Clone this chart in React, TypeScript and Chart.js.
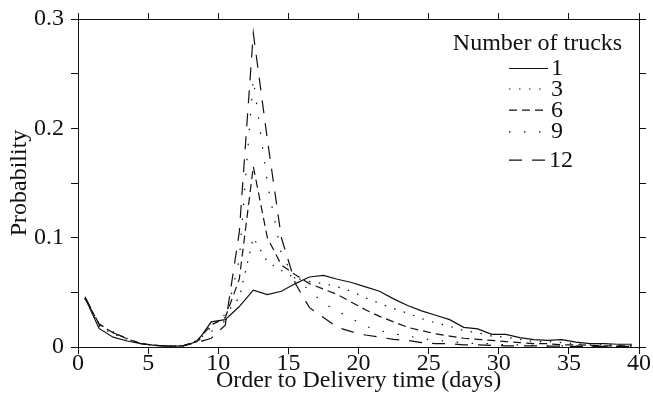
import React, { useEffect, useRef } from "react";
import { Chart, registerables } from "chart.js";

Chart.register(...registerables);

const FONT = "'Liberation Serif', 'Times New Roman', serif";

const DAYS = [
  0.5, 1.5, 2.5, 3.5, 4.5, 5.5, 6.5, 7.5, 8.5, 9.5,
  10.5, 11.5, 12.5, 13.5, 14.5, 15.5, 16.5, 17.5, 18.5, 19.5,
  20.5, 21.5, 22.5, 23.5, 24.5, 25.5, 26.5, 27.5, 28.5, 29.5,
  30.5, 31.5, 32.5, 33.5, 34.5, 35.5, 36.5, 37.5, 38.5, 39.5,
];

const TRUCKS_1 = [
  0.045, 0.017, 0.009, 0.0055, 0.003, 0.0015, 0.0008, 0.001, 0.005, 0.023,
  0.025, 0.037, 0.052, 0.048, 0.051, 0.058, 0.064, 0.0655, 0.062, 0.059,
  0.055, 0.051, 0.044, 0.038, 0.033, 0.029, 0.025, 0.018, 0.0165, 0.0115,
  0.0115, 0.0085, 0.0068, 0.006, 0.0068, 0.0045, 0.003, 0.003, 0.0025, 0.0025,
];

const TRUCKS_3 = [
  0.044, 0.019, 0.012, 0.007, 0.003, 0.0015, 0.0008, 0.001, 0.005, 0.018,
  0.03, 0.045, 0.1, 0.078, 0.07, 0.063, 0.06, 0.058, 0.055, 0.051,
  0.045, 0.04, 0.035, 0.031, 0.026, 0.022, 0.019, 0.015, 0.013, 0.01,
  0.009, 0.007, 0.005, 0.005, 0.004, 0.003, 0.002, 0.002, 0.002, 0.001,
];

const TRUCKS_6 = [
  0.045, 0.021, 0.013, 0.0075, 0.003, 0.0015, 0.0008, 0.001, 0.006, 0.02,
  0.027, 0.062, 0.165, 0.1, 0.075, 0.066, 0.058, 0.053, 0.048, 0.041,
  0.034, 0.028, 0.023, 0.018, 0.015, 0.012, 0.01, 0.008, 0.007, 0.006,
  0.005, 0.004, 0.003, 0.003, 0.002, 0.002, 0.0015, 0.001, 0.001, 0.001,
];

const TRUCKS_9 = [
  0.044, 0.02, 0.014, 0.008, 0.003, 0.0015, 0.0008, 0.001, 0.005, 0.014,
  0.024, 0.08, 0.245, 0.15, 0.085, 0.062, 0.052, 0.04, 0.033, 0.026,
  0.019, 0.015, 0.012, 0.01, 0.008, 0.006, 0.005, 0.004, 0.003, 0.003,
  0.002, 0.002, 0.0015, 0.001, 0.001, 0.001, 0.0008, 0.0008, 0.0005, 0.0005,
];

const TRUCKS_12 = [
  0.046, 0.021, 0.013, 0.008, 0.003, 0.0015, 0.0008, 0.0012, 0.004, 0.008,
  0.02, 0.105, 0.287, 0.19, 0.1, 0.058, 0.036, 0.027, 0.018, 0.014,
  0.011, 0.009, 0.007, 0.006, 0.004, 0.003, 0.003, 0.002, 0.002, 0.0015,
  0.001, 0.001, 0.001, 0.0008, 0.0008, 0.0005, 0.0005, 0.0005, 0.0005, 0.0005,
];

const SERIES_LABELS = ["1", "3", "6", "9", "12"];
const SERIES_VALUES = [TRUCKS_1, TRUCKS_3, TRUCKS_6, TRUCKS_9, TRUCKS_12];
const SERIES_DASH = [[], [1.5, 8.5], [8, 5], [1.5, 13.5], [13, 10]];
const LEGEND_TITLE = "Number of trucks";
const X_TITLE = "Order to Delivery time (days)";
const Y_TITLE = "Probability";

const INK = "#111";

const legendPlugin = {
  id: "trucksLegend",
  afterDraw(chart: any) {
    const ctx = chart.ctx as CanvasRenderingContext2D;
    ctx.save();
    ctx.fillStyle = INK;
    ctx.strokeStyle = INK;
    ctx.font = `24px ${FONT}`;
    ctx.textBaseline = "alphabetic";
    ctx.textAlign = "center";
    ctx.fillText(LEGEND_TITLE, 537.5, 50);
    const baselines = [75, 95.5, 116.7, 138.3, 166.7];
    ctx.textAlign = "left";
    SERIES_LABELS.forEach((lab, i) => {
      const yl = baselines[i] - 6.5;
      ctx.beginPath();
      ctx.lineWidth = 1.2;
      ctx.lineCap = "butt";
      ctx.setLineDash(SERIES_DASH[i]);
      ctx.moveTo(509, yl);
      ctx.lineTo(i === 0 ? 548 : 546, yl);
      ctx.stroke();
      ctx.setLineDash([]);
      ctx.fillText(lab, i === 4 ? 549 : 551, baselines[i]);
    });
    ctx.restore();
  },
};

export default function App() {
  const ref = useRef<HTMLCanvasElement | null>(null);

  useEffect(() => {
    document.body.style.margin = "0";
    const canvas = ref.current;
    if (!canvas) return;
    const datasets = SERIES_VALUES.map((vals, i) => ({
      label: SERIES_LABELS[i],
      data: DAYS.map((d, j) => ({ x: d, y: vals[j] })),
      borderColor: INK,
      backgroundColor: INK,
      borderWidth: 1.2,
      borderDash: SERIES_DASH[i],
      borderCapStyle: "butt" as const,
      pointRadius: 0,
      pointHoverRadius: 0,
      tension: 0,
      fill: false,
      xAxisID: "x",
      yAxisID: "y",
    }));

    const axisGrid = (len: number) => ({
      drawOnChartArea: false,
      drawTicks: true,
      tickLength: len,
      color: INK,
      lineWidth: 1,
    });
    const border = { display: true, color: INK, width: 1 };
    const tickFont = { family: FONT, size: 24, lineHeight: 1 };
    const noPad = (s: any) => {
      s.paddingLeft = 0;
      s.paddingRight = 0;
      s.paddingTop = 0;
      s.paddingBottom = 0;
    };

    const chart = new Chart(canvas, {
      type: "line",
      data: { datasets },
      plugins: [legendPlugin],
      options: {
        animation: false,
        responsive: false,
        maintainAspectRatio: false,
        devicePixelRatio: 1,
        layout: { padding: 0 },
        plugins: {
          legend: { display: false },
          tooltip: { enabled: false },
        },
        events: [],
        scales: {
          x: {
            type: "linear",
            position: "bottom",
            min: 0,
            max: 40,
            grid: axisGrid(7),
            border,
            ticks: {
              stepSize: 5,
              color: INK,
              font: tickFont,
              padding: -2,
              maxRotation: 0,
              callback: (v: any) => String(v),
            },
            title: {
              display: true,
              text: X_TITLE,
              color: INK,
              font: { family: FONT, size: 24, lineHeight: 1.2 },
              padding: { top: 0, bottom: 9.5 },
            },
            afterFit: (s: any) => {
              s.height = 58;
              noPad(s);
            },
          },
          xTop: {
            type: "linear",
            position: "top",
            min: 0,
            max: 40,
            grid: axisGrid(6),
            border,
            ticks: { stepSize: 5, display: false },
            afterFit: (s: any) => {
              s.height = 19;
              noPad(s);
            },
          },
          y: {
            type: "linear",
            position: "left",
            min: 0,
            max: 0.3,
            grid: axisGrid(7),
            border,
            ticks: {
              stepSize: 0.05,
              color: INK,
              font: tickFont,
              padding: 7,
              callback: (v: any) => {
                const t = Number(v) * 10;
                if (Math.abs(t - Math.round(t)) > 1e-6) return "";
                const r = Math.round(t);
                return r === 0 ? "0" : (r / 10).toFixed(1);
              },
            },
            title: {
              display: true,
              text: Y_TITLE,
              color: INK,
              font: { family: FONT, size: 24, lineHeight: 1.2 },
              padding: { top: 5.5, bottom: 0 },
            },
            afterFit: (s: any) => {
              s.width = 78;
              noPad(s);
            },
          },
          yRight: {
            type: "linear",
            position: "right",
            min: 0,
            max: 0.3,
            grid: axisGrid(7),
            border,
            ticks: { stepSize: 0.05, display: false },
            afterFit: (s: any) => {
              s.width = 14;
              noPad(s);
            },
          },
        },
      },
    } as any);
    return () => chart.destroy();
  }, []);

  return (
    <div style={{ position: "fixed", left: 0, top: 0, width: 653, height: 405, background: "#fff" }}>
      <canvas ref={ref} width={653} height={405} style={{ width: 653, height: 405, display: "block" }} />
    </div>
  );
}
